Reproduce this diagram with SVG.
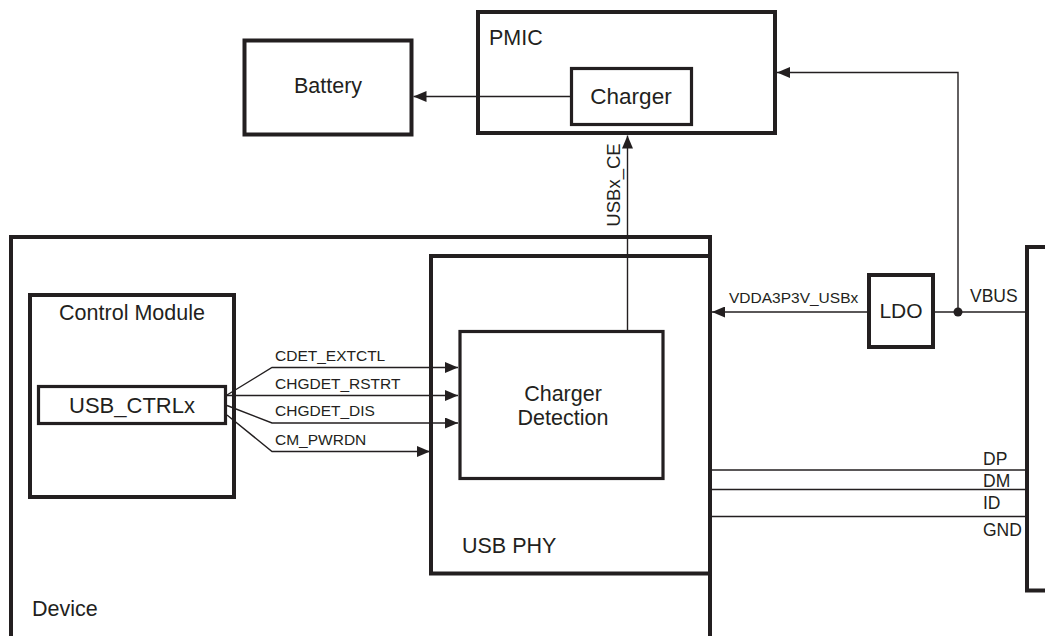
<svg xmlns="http://www.w3.org/2000/svg" width="1045" height="636" viewBox="0 0 1045 636">
<style>
.box{fill:none;stroke:#231f20;stroke-width:4}
.ibox{fill:none;stroke:#231f20;stroke-width:3.2}
.ln{fill:none;stroke:#231f20;stroke-width:1.4}
text{font-family:"Liberation Sans",Arial,sans-serif;fill:#231f20}
.big{font-size:21.5px}
.sig{font-size:15.5px}
.pin{font-size:17.5px}
</style>
<defs>
<marker id="ah" markerUnits="userSpaceOnUse" markerWidth="13" markerHeight="11" viewBox="0 0 13 11" refX="13" refY="5.5" orient="auto">
<path d="M0,0 L13,5.5 L0,11 z" fill="#231f20"/>
</marker>
</defs>
<rect width="1045" height="636" fill="#fff"/>
<g id="device">
<path class="box" d="M11,650 V237 H710 V650"/>
<text class="big" x="32" y="616">Device</text>
</g>
<g id="battery">
<rect class="box" x="244.5" y="40.5" width="167" height="94"/>
<text class="big" x="328" y="93" text-anchor="middle">Battery</text>
</g>
<g id="pmic">
<rect class="box" x="478" y="12" width="297" height="121"/>
<text class="big" x="489" y="45">PMIC</text>
</g>
<g id="charger">
<rect class="ibox" x="571.5" y="68.5" width="120" height="56"/>
<text x="631" y="104" text-anchor="middle" font-size="22.5">Charger</text>
</g>
<g id="usbphy">
<rect class="box" x="431" y="256" width="279" height="317.5"/>
<text class="big" x="462" y="553">USB PHY</text>
</g>
<g id="chargerdetection">
<rect class="ibox" x="460" y="331.5" width="203" height="147"/>
<text class="big" x="563" y="401" text-anchor="middle">Charger</text>
<text class="big" x="563" y="425" text-anchor="middle">Detection</text>
</g>
<g id="controlmodule">
<rect class="box" x="30" y="295" width="204" height="202"/>
<text class="big" x="132" y="320" text-anchor="middle">Control Module</text>
</g>
<g id="usbctrlx">
<rect class="ibox" x="38.5" y="386.5" width="187" height="37"/>
<text x="132" y="413" text-anchor="middle" font-size="22">USB_CTRLx</text>
</g>
<g id="ldo">
<rect class="box" x="869" y="275" width="64" height="72"/>
<text x="901" y="318" text-anchor="middle" font-size="21">LDO</text>
</g>
<g id="connector">
<path class="box" d="M1047,247 H1027 V590.5 H1047"/>
</g>
<g id="connectors">
<path class="ln" d="M570,96.5 H413.5" marker-end="url(#ah)"/>
<path class="ln" d="M627.5,330 V135.5" marker-end="url(#ah)"/>
<path class="ln" d="M958,312 V72.5 H777" marker-end="url(#ah)"/>
<path class="ln" d="M867,312 H712" marker-end="url(#ah)"/>
<path class="ln" d="M935,312 H1025"/>
<circle cx="958" cy="312" r="4.5" fill="#231f20"/>
<path class="ln" d="M227,395 L272,367.5 H458" marker-end="url(#ah)"/>
<path class="ln" d="M227,395.5 H458" marker-end="url(#ah)"/>
<path class="ln" d="M227,405.5 L272,423 H458" marker-end="url(#ah)"/>
<path class="ln" d="M227,415 L272,451.5 H430" marker-end="url(#ah)"/>
<path class="ln" d="M712,470 H1025"/>
<path class="ln" d="M712,489.5 H1025"/>
<path class="ln" d="M712,516.5 H1025"/>
<text class="sig" x="275" y="361">CDET_EXTCTL</text>
<text class="sig" x="275" y="388.5">CHGDET_RSTRT</text>
<text class="sig" x="275" y="416">CHGDET_DIS</text>
<text class="sig" x="275" y="444.5">CM_PWRDN</text>
<text class="sig" x="729" y="303">VDDA3P3V_USBx</text>
<text font-size="18.5" transform="translate(620,185) rotate(-90)" text-anchor="middle">USBx_CE</text>
<text class="pin" x="970" y="302">VBUS</text>
<text class="pin" x="983" y="465">DP</text>
<text class="pin" x="983" y="486.5">DM</text>
<text class="pin" x="983" y="509">ID</text>
<text class="pin" x="983" y="536">GND</text>
</g>
</svg>
